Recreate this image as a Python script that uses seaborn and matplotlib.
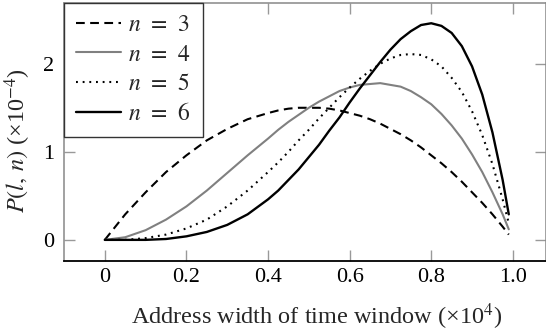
import numpy as np
import pandas as pd
import matplotlib
matplotlib.use("Agg")
import matplotlib.pyplot as plt
import seaborn as sns

# ---- data ----
x_vals = [0.0, 0.05, 0.10, 0.15, 0.20, 0.25, 0.30, 0.35,
          0.400, 0.425, 0.450, 0.475, 0.500, 0.525, 0.550, 0.575,
          0.600, 0.625, 0.650, 0.675, 0.700, 0.725, 0.750, 0.775,
          0.800, 0.825, 0.850, 0.875, 0.900, 0.925, 0.950, 0.975, 0.99]
p_n3 = [0.0, 0.29, 0.54, 0.77, 0.96, 1.13, 1.26, 1.37,
        1.44, 1.47, 1.49, 1.50, 1.50, 1.50, 1.49, 1.47,
        1.44, 1.41, 1.37, 1.32, 1.26, 1.20, 1.13, 1.05,
        0.96, 0.87, 0.77, 0.66, 0.54, 0.42, 0.29, 0.15, 0.06]
p_n4 = [0.0, 0.03, 0.11, 0.23, 0.38, 0.56, 0.76, 0.96,
        1.15, 1.25, 1.34, 1.42, 1.50, 1.57, 1.63, 1.69,
        1.73, 1.76, 1.77, 1.78, 1.76, 1.74, 1.69, 1.62,
        1.54, 1.43, 1.30, 1.15, 0.97, 0.77, 0.54, 0.29, 0.12]
p_n5 = [0.0, 0.00, 0.02, 0.06, 0.13, 0.23, 0.38, 0.56,
        0.77, 0.88, 1.00, 1.13, 1.25, 1.38, 1.50, 1.62,
        1.73, 1.83, 1.92, 2.00, 2.06, 2.10, 2.11, 2.10,
        2.05, 1.97, 1.84, 1.68, 1.46, 1.19, 0.86, 0.46, 0.19]
p_n6 = [0.0, 0.00, 0.00, 0.01, 0.04, 0.09, 0.17, 0.29,
        0.46, 0.56, 0.68, 0.80, 0.94, 1.08, 1.24, 1.39,
        1.56, 1.72, 1.87, 2.02, 2.16, 2.28, 2.37, 2.44,
        2.46, 2.43, 2.35, 2.20, 1.97, 1.65, 1.22, 0.68, 0.29]
series_labels = [r"$n\;\,=\;\,3$", r"$n\;\,=\;\,4$", r"$n\;\,=\;\,5$", r"$n\;\,=\;\,6$"]
x_ticks = [0.0, 0.2, 0.4, 0.6, 0.8, 1.0]
x_ticklabels = ["0", "0.2", "0.4", "0.6", "0.8", "1.0"]
y_ticks = [0, 1, 2]
y_ticklabels = ["0", "1", "2"]

sns.set_theme(style="white")
plt.rcParams["font.family"] = ["Liberation Serif", "DejaVu Serif"]
plt.rcParams["mathtext.fontset"] = "stix"

fig = plt.figure(figsize=(5.46, 3.34), dpi=100)
ax = fig.add_axes([64 / 546, 73 / 334, 481.5 / 546, 258 / 334])

styles = [
    dict(color="black", linewidth=1.5, linestyle=(0, (4.2, 2.6))),
    dict(color="#808080", linewidth=1.5, linestyle="-"),
    dict(color="black", linewidth=1.5, linestyle=(0, (0.9, 2.3))),
    dict(color="black", linewidth=1.7, linestyle="-"),
]
all_vals = [p_n3, p_n4, p_n5, p_n6]
for vals, lab, st in zip(all_vals, series_labels, styles):
    df = pd.DataFrame({"x": x_vals, "p": vals})
    sns.lineplot(data=df, x="x", y="p", ax=ax, label=lab, **st)

ax.set_xlim(-0.1, 1.08)
ax.set_ylim(-0.24, 2.69)
ax.set_xticks(x_ticks)
ax.set_xticklabels(x_ticklabels)
ax.set_yticks(y_ticks)
ax.set_yticklabels(y_ticklabels)

ax.tick_params(axis="both", which="both", direction="in", length=8,
               width=1.0, color="#999999", labelsize=16,
               top=True, right=True, bottom=True, left=True,
               labelcolor="black")
ax.tick_params(axis="x", pad=5)
ax.tick_params(axis="y", pad=7)

for side in ["left", "top", "right"]:
    ax.spines[side].set_color("#888888")
    ax.spines[side].set_linewidth(1.1)
ax.spines["bottom"].set_color("black")
ax.spines["bottom"].set_linewidth(1.3)

ax.set_xlabel("Address width of time window (×10$^{4}$)", fontsize=17.5)
ax.set_ylabel(r"$P(l,\,n)$ (×10$^{-4}$)", fontsize=17.5)
ax.xaxis.set_label_coords(0.524, -0.155)
ax.yaxis.set_label_coords(-0.064, 0.467)

leg = ax.legend(loc="upper left", bbox_to_anchor=(0, 1), borderaxespad=0,
                fontsize=17, frameon=True, fancybox=False, framealpha=1,
                handlelength=1.9, handletextpad=0.3, labelspacing=0.33,
                borderpad=0.5)
leg.get_frame().set_edgecolor("#333333")
leg.get_frame().set_linewidth(1.0)

fig.savefig("out.png", dpi=100)
